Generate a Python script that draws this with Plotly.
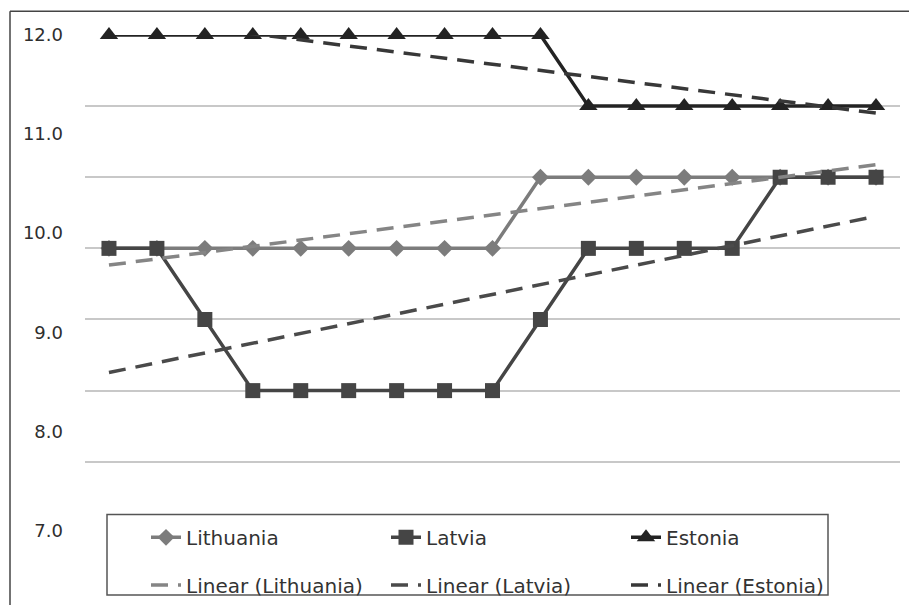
import numpy as np
import plotly.graph_objects as go

# ---- data (values on the gridline scale) ----
periods = list(range(17))
lithuania = [9, 9, 9, 9, 9, 9, 9, 9, 9, 10, 10, 10, 10, 10, 10, 10, 10]
latvia = [9, 9, 8, 7, 7, 7, 7, 7, 7, 8, 9, 9, 9, 9, 10, 10, 10]
estonia = [12, 12, 12, 12, 12, 12, 12, 12, 12, 12, 11, 11, 11, 11, 11, 11, 11]
grid_values = [6, 7, 8, 9, 10, 11, 12]
label_values = [7, 8, 9, 10, 11, 12]

W, H = 909, 605
ML, MR, MT, MB = 85, 9, 35, 0
PW, PH = W - ML - MR, H - MT - MB


def px_x(p):
    return (p - ML) / PW


def px_y(p):
    return (H - MB - p) / PH


def trend(vals):
    k, b = np.polyfit(periods, vals, 1)
    return [k * x + b for x in periods]


C_LIT, C_LAT, C_EST = "#7c7c7c", "#454545", "#232323"
FONT = "DejaVu Sans"

fig = go.Figure()
fig.add_trace(go.Scatter(x=periods, y=lithuania, name="Lithuania", mode="lines+markers",
                         line=dict(color=C_LIT, width=3.5),
                         marker=dict(symbol="diamond", size=13, color=C_LIT), legend="legend"))
fig.add_trace(go.Scatter(x=periods, y=latvia, name="Latvia", mode="lines+markers",
                         line=dict(color=C_LAT, width=3.5),
                         marker=dict(symbol="square", size=15, color=C_LAT), legend="legend"))
fig.add_trace(go.Scatter(x=periods, y=estonia, name="Estonia", mode="lines+markers",
                         line=dict(color=C_EST, width=3.5), cliponaxis=False,
                         marker=dict(symbol="triangle-up", size=16, color=C_EST), legend="legend"))
fig.add_trace(go.Scatter(x=periods, y=trend(lithuania), name="Linear (Lithuania)", mode="lines",
                         line=dict(color="#858585", width=3.5, dash="17px,10px"), legend="legend2"))
fig.add_trace(go.Scatter(x=periods, y=trend(latvia), name="Linear (Latvia)", mode="lines",
                         line=dict(color="#4a4a4a", width=3.5, dash="17px,10px"), legend="legend2"))
fig.add_trace(go.Scatter(x=periods, y=trend(estonia), name="Linear (Estonia)", mode="lines",
                         line=dict(color="#383838", width=3.5, dash="17px,10px"), legend="legend2"))
fig.add_trace(go.Scatter(x=[], y=[], yaxis="y2", showlegend=False, hoverinfo="skip"))

legend_common = dict(orientation="h", xanchor="left", yanchor="middle",
                     x=px_x(146), bgcolor="rgba(0,0,0,0)", borderwidth=0,
                     entrywidthmode="pixels", entrywidth=195,
                     font=dict(family=FONT, size=20, color="#333333"))

fig.update_layout(
    width=W, height=H,
    margin=dict(l=ML, r=MR, t=MT, b=MB),
    paper_bgcolor="white", plot_bgcolor="white",
    showlegend=True,
    legend=dict(legend_common, y=px_y(540)),
    legend2=dict(legend_common, y=px_y(588)),
    xaxis=dict(range=[-0.5, 16.5], showgrid=False, zeroline=False,
               showticklabels=False, ticks="", showline=False),
    yaxis=dict(range=[12 - PH / 71.5, 12], tickvals=grid_values, showticklabels=False,
               showgrid=True, gridcolor="#c8c8c8", gridwidth=1.5, zeroline=False,
               ticks="", showline=False),
    yaxis2=dict(overlaying="y", side="left", range=[12 - PH / 99.6, 12],
                tickvals=label_values, tickformat=".1f", showgrid=False, zeroline=False,
                ticks="", showline=False, ticklabelstandoff=21,
                tickfont=dict(family=FONT, size=18, color="#2e2e2e")),
    shapes=[
        # outer chart frame (left and top edges)
        dict(type="line", xref="paper", yref="paper", x0=px_x(10), x1=px_x(930),
             y0=px_y(11), y1=px_y(11), line=dict(color="#444444", width=1.5)),
        dict(type="line", xref="paper", yref="paper", x0=px_x(10), x1=px_x(10),
             y0=px_y(11), y1=px_y(620), line=dict(color="#444444", width=1.5)),
        # legend box
        dict(type="rect", xref="paper", yref="paper", x0=px_x(107), x1=px_x(828),
             y0=px_y(598), y1=px_y(517), fillcolor="white",
             line=dict(color="#555555", width=1.5), layer="above"),
    ],
)

fig.write_html("out.html", config={"displayModeBar": False},
               post_script="document.body.style.margin='0';")
